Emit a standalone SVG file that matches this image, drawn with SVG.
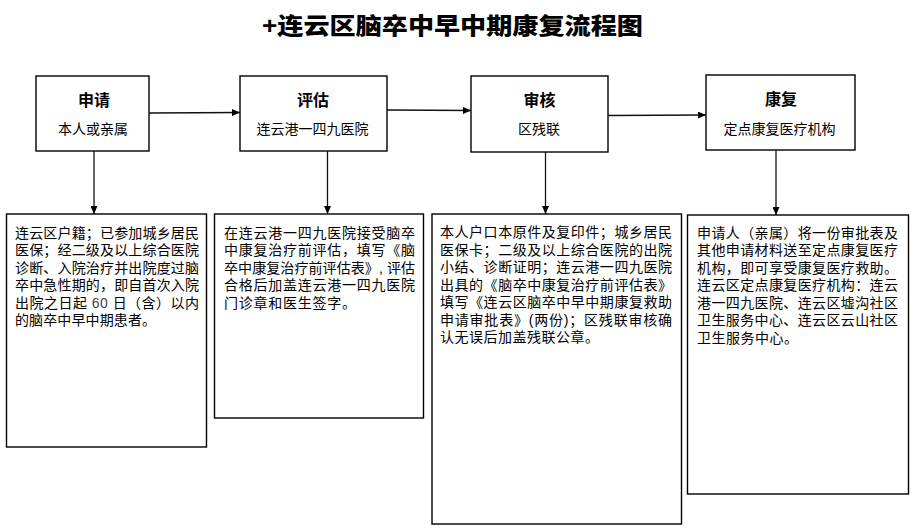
<svg xmlns="http://www.w3.org/2000/svg" width="916" height="531" viewBox="0 0 916 531">
<defs>
<style>
.box{fill:#fff;stroke:#000;stroke-width:1.4}
.hd{font-family:"Liberation Sans","Noto Sans CJK SC",sans-serif;font-size:16px;font-weight:700;text-anchor:middle;fill:#000}
.sub{font-family:"Liberation Sans","Noto Sans CJK SC",sans-serif;font-size:14px;text-anchor:middle;fill:#000}
.body{font-family:"Liberation Sans","Noto Sans CJK SC",sans-serif;font-size:14px;fill:#000}
.num{font-family:"Liberation Sans",Arial,sans-serif;fill:#444}
.con{stroke:#111;stroke-width:1.3;fill:none;marker-end:url(#ah)}
.title{font-family:"Liberation Sans","Noto Sans CJK SC",sans-serif;font-size:23px;font-weight:900;fill:#000}
</style>
<marker id="ah" viewBox="0 0 8 7" refX="8" refY="3.5" markerWidth="8" markerHeight="7" markerUnits="userSpaceOnUse" orient="auto">
<path d="M0,0 L8,3.5 L0,7 z" fill="#000"/>
</marker>
</defs>
<rect width="916" height="531" fill="#fff"/>

<text class="title" x="262" y="34" textLength="381" lengthAdjust="spacingAndGlyphs">+连云区脑卒中早中期康复流程图</text>

<g id="n-apply">
<rect class="box" x="36" y="76" width="113" height="75"/>
<text class="hd" x="94" y="106">申请</text>
<text class="sub" x="93" y="134">本人或亲属</text>
</g>
<g id="n-assess">
<rect class="box" x="240" y="76" width="147" height="75"/>
<text class="hd" x="313" y="106">评估</text>
<text class="sub" x="312.5" y="134">连云港一四九医院</text>
</g>
<g id="n-review">
<rect class="box" x="471" y="76" width="137" height="76"/>
<text class="hd" x="539.5" y="106">审核</text>
<text class="sub" x="539" y="134">区残联</text>
</g>
<g id="n-rehab">
<rect class="box" x="706" y="75" width="149" height="75"/>
<text class="hd" x="781" y="105">康复</text>
<text class="sub" x="779.5" y="133.5">定点康复医疗机构</text>
</g>

<g id="d-apply">
<rect class="box" x="6.5" y="214" width="200" height="233"/>
<text class="body"><tspan x="15" y="237.5" textLength="184">连云区户籍；已参加城乡居民</tspan><tspan x="15" y="255" textLength="184">医保；经二级及以上综合医院</tspan><tspan x="15" y="272.5" textLength="184">诊断、入院治疗并出院度过脑</tspan><tspan x="15" y="290" textLength="184">卒中急性期的，即自首次入院</tspan><tspan x="15" y="307.5" textLength="184" xml:space="preserve">出院之日起 <tspan class="num">60</tspan> 日（含）以内</tspan><tspan x="15" y="325" textLength="141">的脑卒中早中期患者。</tspan></text>
</g>
<g id="d-assess">
<rect class="box" x="214.5" y="214" width="209" height="204"/>
<text class="body"><tspan x="224" y="237.5" textLength="191">在连云港一四九医院接受脑卒</tspan><tspan x="224" y="255" textLength="191">中康复治疗前评估，填写《脑</tspan><tspan x="224" y="272.5" textLength="191">卒中康复治疗前评估表》, 评估</tspan><tspan x="224" y="290" textLength="191">合格后加盖连云港一四九医院</tspan><tspan x="224" y="307.5" textLength="132">门诊章和医生签字。</tspan></text>
</g>
<g id="d-review">
<rect class="box" x="432" y="214" width="249.5" height="310"/>
<text class="body"><tspan x="440" y="237" textLength="232">本人户口本原件及复印件；城乡居民</tspan><tspan x="440" y="254.5" textLength="232">医保卡；二级及以上综合医院的出院</tspan><tspan x="440" y="272" textLength="232">小结、诊断证明；连云港一四九医院</tspan><tspan x="440" y="289.5" textLength="232">出具的《脑卒中康复治疗前评估表》</tspan><tspan x="440" y="307" textLength="232">填写《连云区脑卒中早中期康复救助</tspan><tspan x="440" y="324.5" textLength="232">申请审批表》(两份)；区残联审核确</tspan><tspan x="440" y="342" textLength="159">认无误后加盖残联公章。</tspan></text>
</g>
<g id="d-rehab">
<rect class="box" x="687.5" y="215" width="221" height="279"/>
<text class="body"><tspan x="697" y="237.5" textLength="201">申请人（亲属）将一份审批表及</tspan><tspan x="697" y="255" textLength="201">其他申请材料送至定点康复医疗</tspan><tspan x="697" y="272.5" textLength="201">机构，即可享受康复医疗救助。</tspan><tspan x="697" y="290" textLength="201">连云区定点康复医疗机构：连云</tspan><tspan x="697" y="307.5" textLength="201">港一四九医院、连云区墟沟社区</tspan><tspan x="697" y="325" textLength="201">卫生服务中心、连云区云山社区</tspan><tspan x="697" y="342.5" textLength="101">卫生服务中心。</tspan></text>
</g>

<g id="connectors">
<line class="con" x1="149" y1="113" x2="240" y2="112.5"/>
<line class="con" x1="387" y1="110" x2="471" y2="110.5"/>
<line class="con" x1="608" y1="115.5" x2="706" y2="115"/>
<line class="con" x1="94" y1="151" x2="94" y2="214"/>
<line class="con" x1="327.5" y1="151" x2="327.5" y2="214"/>
<line class="con" x1="545.5" y1="152" x2="545.5" y2="214"/>
<line class="con" x1="776" y1="150" x2="776" y2="215"/>
</g>
</svg>
